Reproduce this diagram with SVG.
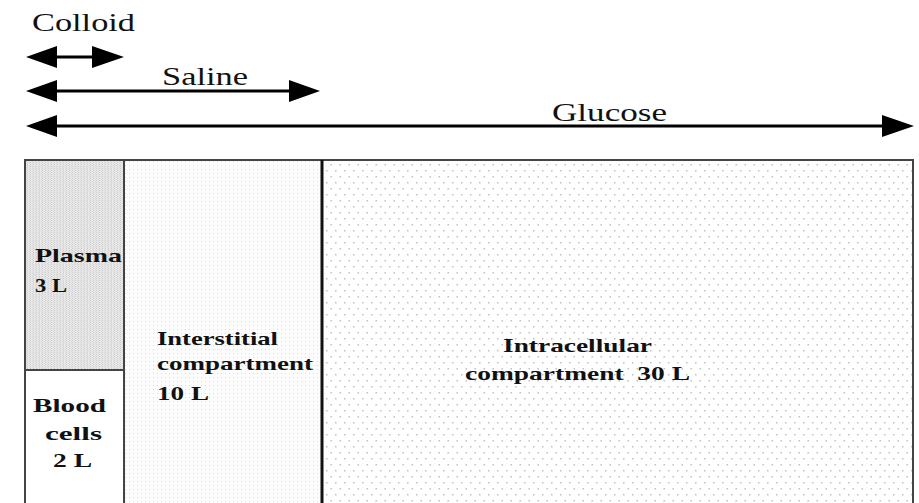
<svg xmlns="http://www.w3.org/2000/svg" width="919" height="503" viewBox="0 0 919 503">
<style>
.lbl{font-family:"Liberation Serif","Times New Roman",serif;font-size:26px;fill:#111}
.in{font-family:"Liberation Serif","Times New Roman",serif;font-size:19px;font-weight:bold;fill:#111}
.shaft{stroke:#000;stroke-width:3;fill:none}
.head{fill:#000}
.border{fill:none;stroke:#444;stroke-width:2}
</style>
<defs>
<pattern id="plasmaPat" width="3" height="2" patternUnits="userSpaceOnUse">
<rect width="3" height="2" fill="#e8e8e8"/>
<rect x="0" y="0" width="1" height="1" fill="#cccccc"/>
<rect x="2" y="1" width="1" height="1" fill="#d8d8d8"/>
</pattern>
<pattern id="interPat" width="4" height="4" patternUnits="userSpaceOnUse">
<rect width="4" height="4" fill="#fdfdfd"/>
<rect x="1" y="1" width="1" height="1" fill="#dadada"/>
</pattern>
<pattern id="intraPat" width="9" height="12" patternUnits="userSpaceOnUse">
<rect width="9" height="12" fill="#ffffff"/>
<rect x="2" y="2" width="1.5" height="1.5" fill="#c0c0c0"/>
<rect x="6.5" y="8" width="1.5" height="1.5" fill="#c0c0c0"/>
</pattern>
</defs>
<rect width="919" height="503" fill="#ffffff"/>

<g id="connectors">
<g id="colloid-arrow">
<line class="shaft" x1="50" y1="57" x2="98" y2="57"/>
<polygon class="head" points="26,57 57,46 57,68"/>
<polygon class="head" points="124,57 92,46 92,68"/>
</g>
<g id="saline-arrow">
<line class="shaft" x1="50" y1="91" x2="295" y2="91"/>
<polygon class="head" points="26,91 57,80 57,102"/>
<polygon class="head" points="320,91 289,80 289,102"/>
</g>
<g id="glucose-arrow">
<line class="shaft" x1="50" y1="126" x2="888" y2="126"/>
<polygon class="head" points="26,126 57,115 57,137"/>
<polygon class="head" points="914,126 882,115 882,137"/>
</g>
</g>

<g id="labels">
<text class="lbl" x="32" y="31" textLength="103" lengthAdjust="spacingAndGlyphs">Colloid</text>
<text class="lbl" x="162" y="85" textLength="86" lengthAdjust="spacingAndGlyphs">Saline</text>
<text class="lbl" x="552" y="121" textLength="115" lengthAdjust="spacingAndGlyphs">Glucose</text>
</g>

<g id="plasma">
<rect x="25" y="161" width="99" height="209" fill="url(#plasmaPat)"/>
<text class="in" x="35" y="262" textLength="87" lengthAdjust="spacingAndGlyphs">Plasma</text>
<text class="in" x="35" y="292" textLength="32" lengthAdjust="spacingAndGlyphs">3 L</text>
</g>

<g id="blood-cells">
<rect x="25" y="370" width="99" height="133" fill="#ffffff"/>
<text class="in" x="33" y="412" textLength="73" lengthAdjust="spacingAndGlyphs">Blood</text>
<text class="in" x="45" y="440" textLength="57" lengthAdjust="spacingAndGlyphs">cells</text>
<text class="in" x="53" y="467" textLength="39" lengthAdjust="spacingAndGlyphs">2 L</text>
</g>

<g id="interstitial">
<rect x="124" y="161" width="198" height="342" fill="url(#interPat)"/>
<text class="in" x="157" y="345" textLength="121" lengthAdjust="spacingAndGlyphs">Interstitial</text>
<text class="in" x="157" y="370" textLength="156" lengthAdjust="spacingAndGlyphs">compartment</text>
<text class="in" x="157" y="400" textLength="52" lengthAdjust="spacingAndGlyphs">10 L</text>
</g>

<g id="intracellular">
<rect x="322" y="161" width="591" height="342" fill="url(#intraPat)"/>
<text class="in" x="503" y="352" textLength="149" lengthAdjust="spacingAndGlyphs">Intracellular</text>
<text class="in" x="465" y="380" textLength="225" lengthAdjust="spacingAndGlyphs" xml:space="preserve">compartment  30 L</text>
</g>

<g id="borders">
<polyline class="border" points="25,504 25,160 913,160 913,504"/>
<line class="border" x1="124" y1="160" x2="124" y2="504"/>
<line class="border" x1="25" y1="370" x2="124" y2="370"/>
<line x1="322" y1="160" x2="322" y2="504" stroke="#111" stroke-width="3"/>
</g>
</svg>
